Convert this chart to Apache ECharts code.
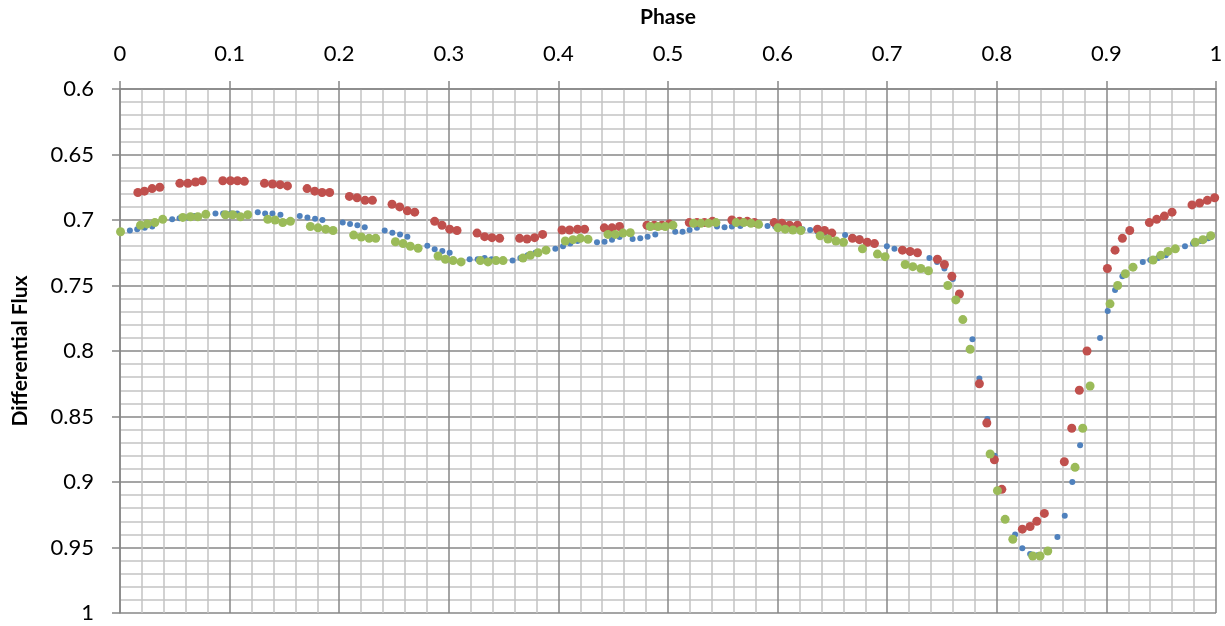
<!DOCTYPE html>
<html>
<head>
<meta charset="utf-8">
<script src="https://cdn.jsdelivr.net/npm/echarts@6/dist/echarts.min.js"></script>
<style>
  html, body { margin: 0; padding: 0; background: #fff; }
  #chart { width: 1225px; height: 626px; }
</style>
</head>
<body>
<div id="chart"></div>
<script>
// values
const bluePhase = [
  0.009, 0.0157, 0.0226, 0.0294, 0.0476, 0.0543, 0.061, 0.068,
  0.0871, 0.0941, 0.101, 0.1069, 0.1257, 0.1324, 0.1391, 0.1464,
  0.164, 0.171, 0.178, 0.1847, 0.2032, 0.2099, 0.2166, 0.2233,
  0.2415, 0.2485, 0.2555, 0.2622, 0.2804, 0.2871, 0.2941, 0.3008,
  0.319, 0.3263, 0.3327, 0.339, 0.3582, 0.3653, 0.372, 0.379,
  0.3972, 0.4042, 0.4108, 0.4175, 0.4352, 0.4421, 0.4489, 0.4558,
  0.4677, 0.4747, 0.4814, 0.4884, 0.5066, 0.5133, 0.5197, 0.5264,
  0.5447, 0.5516, 0.5583, 0.566, 0.5835, 0.5908, 0.5978, 0.6045,
  0.6228, 0.6297, 0.6365, 0.643, 0.6616, 0.668, 0.675, 0.682,
  0.6997, 0.7066, 0.7135, 0.7205, 0.7385, 0.7455, 0.7522, 0.7599,
  0.7778, 0.7841, 0.7914, 0.798, 0.8167, 0.8233, 0.8304, 0.837,
  0.8553, 0.862, 0.8689, 0.876, 0.8942, 0.9012, 0.9079, 0.9146,
  0.9332, 0.94, 0.947, 0.9542, 0.9717, 0.979, 0.986, 0.993
]
const blueFlux = [
  0.708, 0.707, 0.706, 0.705, 0.6995, 0.6987, 0.698, 0.697,
  0.695, 0.695, 0.695, 0.695, 0.694, 0.695, 0.695, 0.696,
  0.697, 0.698, 0.699, 0.700, 0.702, 0.703, 0.704, 0.7056,
  0.708, 0.7097, 0.711, 0.7127, 0.7196, 0.7224, 0.7237, 0.725,
  0.730, 0.730, 0.729, 0.730, 0.731, 0.729, 0.727, 0.725,
  0.722, 0.720, 0.718, 0.716, 0.717, 0.7166, 0.715, 0.713,
  0.7145, 0.714, 0.7127, 0.711, 0.709, 0.709, 0.7076, 0.706,
  0.705, 0.7056, 0.705, 0.7045, 0.704, 0.7046, 0.705, 0.706,
  0.707, 0.7076, 0.709, 0.710, 0.7115, 0.713, 0.714, 0.716,
  0.720, 0.722, 0.723, 0.725, 0.729, 0.732, 0.737, 0.745,
  0.791, 0.821, 0.852, 0.880, 0.940, 0.9506, 0.955, 0.956,
  0.942, 0.9257, 0.900, 0.872, 0.790, 0.7695, 0.7534, 0.743,
  0.732, 0.7305, 0.729, 0.727, 0.720, 0.718, 0.716, 0.714
]

const redPhase = [
  0.0163, 0.0223, 0.0293, 0.0363, 0.0546, 0.0619, 0.0689, 0.0752,
  0.0938, 0.1008, 0.1072, 0.1135, 0.1318, 0.1391, 0.1461, 0.1528,
  0.1707, 0.1777, 0.1844, 0.1913, 0.2093, 0.2163, 0.2236, 0.2303,
  0.2482, 0.2552, 0.2622, 0.2689, 0.2871, 0.2938, 0.3008, 0.3075,
  0.3258, 0.3327, 0.3394, 0.3464, 0.3646, 0.3714, 0.3783, 0.3856,
  0.4033, 0.4102, 0.4175, 0.4239, 0.4419, 0.4489, 0.4558,
  0.4808, 0.4875, 0.4945, 0.5011, 0.5194, 0.5264, 0.5333, 0.5406,
  0.5583, 0.5652, 0.5723, 0.5789, 0.5969, 0.6039, 0.6109, 0.6181,
  0.6364, 0.6428, 0.6495, 0.6683, 0.6747, 0.6817, 0.6884,
  0.7139, 0.7209, 0.7276, 0.7458, 0.7522, 0.759, 0.7659,
  0.7841, 0.7909, 0.7978, 0.8046, 0.8233, 0.8304, 0.8365, 0.8434,
  0.8616, 0.8684, 0.8753, 0.8823, 0.9009, 0.9079, 0.9146, 0.9213,
  0.9392, 0.9459, 0.9529, 0.9599, 0.9781, 0.9851, 0.9921, 0.9988
]
const redFlux = [
  0.679, 0.678, 0.676, 0.675, 0.672, 0.672, 0.671, 0.670,
  0.670, 0.670, 0.670, 0.6705, 0.672, 0.6725, 0.673, 0.674,
  0.676, 0.678, 0.679, 0.679, 0.682, 0.683, 0.685, 0.685,
  0.688, 0.690, 0.693, 0.694, 0.701, 0.704, 0.707, 0.708,
  0.710, 0.7127, 0.7135, 0.714, 0.714, 0.7145, 0.7135, 0.711,
  0.7076, 0.7076, 0.707, 0.707, 0.706, 0.706, 0.705,
  0.704, 0.704, 0.704, 0.703, 0.702, 0.702, 0.702, 0.701,
  0.700, 0.701, 0.701, 0.702, 0.702, 0.7025, 0.704, 0.704,
  0.707, 0.708, 0.710, 0.714, 0.715, 0.717, 0.718,
  0.723, 0.724, 0.725, 0.730, 0.734, 0.743, 0.7565,
  0.825, 0.855, 0.883, 0.9056, 0.936, 0.934, 0.930, 0.924,
  0.8845, 0.859, 0.830, 0.800, 0.737, 0.723, 0.714, 0.708,
  0.702, 0.6995, 0.697, 0.694, 0.6885, 0.687, 0.685, 0.683
]

const greenPhase = [
  0.0005, 0.0187, 0.0248, 0.0318, 0.039, 0.0573, 0.0643, 0.071, 0.0783,
  0.0962, 0.1029, 0.1099, 0.1166, 0.1348, 0.1415, 0.1485, 0.1555,
  0.1737, 0.1807, 0.1877, 0.1944, 0.2132, 0.2202, 0.2273, 0.2333,
  0.2513, 0.2583, 0.2649, 0.272, 0.2902, 0.2969, 0.3039, 0.3112,
  0.3288, 0.3358, 0.3431, 0.3495, 0.3677, 0.3744, 0.3814, 0.3887,
  0.4063, 0.4133, 0.42, 0.427, 0.4452, 0.4519, 0.4589, 0.4656,
  0.4838, 0.4908, 0.4975, 0.5045, 0.5233, 0.53, 0.537, 0.5437,
  0.5622, 0.569, 0.5757, 0.5826, 0.6003, 0.6069, 0.6139, 0.6212,
  0.6388, 0.6459, 0.6532, 0.6601, 0.6774, 0.6911, 0.6981,
  0.7164, 0.7234, 0.7307, 0.7376, 0.7553, 0.7626, 0.769, 0.7757,
  0.7939, 0.8006, 0.8076, 0.8146, 0.8328, 0.8395, 0.8465,
  0.8714, 0.8784, 0.8851, 0.9033, 0.9103, 0.9173, 0.9243,
  0.9426, 0.9496, 0.9562, 0.9629, 0.9811, 0.9881, 0.9952
]
const greenFlux = [
  0.709, 0.704, 0.703, 0.702, 0.6995, 0.698, 0.6975, 0.6975, 0.6957,
  0.696, 0.696, 0.6975, 0.696, 0.6995, 0.700, 0.702, 0.701,
  0.705, 0.706, 0.707, 0.708, 0.7115, 0.713, 0.714, 0.714,
  0.7166, 0.718, 0.720, 0.7216, 0.7275, 0.730, 0.731, 0.732,
  0.731, 0.732, 0.731, 0.731, 0.729, 0.727, 0.725, 0.723,
  0.716, 0.715, 0.714, 0.7147, 0.711, 0.711, 0.710, 0.7097,
  0.705, 0.705, 0.705, 0.704, 0.7025, 0.7025, 0.7025, 0.702,
  0.702, 0.702, 0.7025, 0.7033, 0.706, 0.707, 0.7076, 0.708,
  0.712, 0.7145, 0.716, 0.717, 0.722, 0.726, 0.728,
  0.734, 0.7356, 0.737, 0.7387, 0.750, 0.761, 0.776, 0.7987,
  0.8786, 0.9066, 0.9285, 0.9437, 0.9565, 0.9565, 0.9527,
  0.8888, 0.859, 0.8267, 0.764, 0.750, 0.741, 0.736,
  0.7305, 0.727, 0.724, 0.722, 0.717, 0.715, 0.712
]

const pair = (xs, ys) => xs.map((x, i) => [x, ys[i]])

const font = 'Lato, "Liberation Sans", sans-serif'
const majorLine = { color: '#878787', width: 1.5 }
const minorLine = { color: '#c4c4c4', width: 1.5 }

const chart = echarts.init(document.getElementById('chart'), null, { renderer: 'canvas' })
chart.setOption({
  animation: false,
  backgroundColor: '#ffffff',
  grid: { left: 120, right: 9, top: 89, bottom: 13, outerBoundsMode: 'none', containLabel: false },
  xAxis: {
    type: 'value',
    position: 'top',
    min: 0,
    max: 1,
    interval: 0.1,
    name: 'Phase',
    nameLocation: 'middle',
    nameGap: 61,
    nameTextStyle: { fontFamily: font, fontSize: 21, fontWeight: 'bold', color: '#000' },
    axisLine: { show: true, onZero: false, lineStyle: majorLine },
    axisTick: { show: true, length: 8, lineStyle: majorLine },
    axisLabel: { fontFamily: font, fontSize: 22, color: '#000', margin: 24 },
    splitLine: { show: true, lineStyle: majorLine },
    minorTick: { show: false, splitNumber: 5 },
    minorSplitLine: { show: true, lineStyle: minorLine }
  },
  yAxis: {
    type: 'value',
    inverse: true,
    min: 0.6,
    max: 1,
    interval: 0.05,
    name: 'Differential Flux',
    nameLocation: 'middle',
    nameGap: 89,
    nameTextStyle: { fontFamily: font, fontSize: 21, fontWeight: 'bold', color: '#000' },
    axisLine: { show: true, onZero: false, lineStyle: majorLine },
    axisTick: { show: true, length: 8, lineStyle: majorLine },
    axisLabel: { fontFamily: font, fontSize: 22, color: '#000', margin: 26 },
    splitLine: { show: true, lineStyle: majorLine },
    minorTick: { show: false, splitNumber: 5 },
    minorSplitLine: { show: true, lineStyle: minorLine }
  },
  series: [
    {
      name: 'Blue',
      type: 'scatter',
      symbolSize: 6,
      itemStyle: { color: '#4f81bd', opacity: 1 },
      data: pair(bluePhase, blueFlux)
    },
    {
      name: 'Red',
      type: 'scatter',
      symbolSize: 9,
      itemStyle: { color: '#c0504d', opacity: 1 },
      data: pair(redPhase, redFlux)
    },
    {
      name: 'Green',
      type: 'scatter',
      symbolSize: 9,
      itemStyle: { color: '#9bbb59', opacity: 1 },
      data: pair(greenPhase, greenFlux)
    }
  ]
})
</script>
</body>
</html>
